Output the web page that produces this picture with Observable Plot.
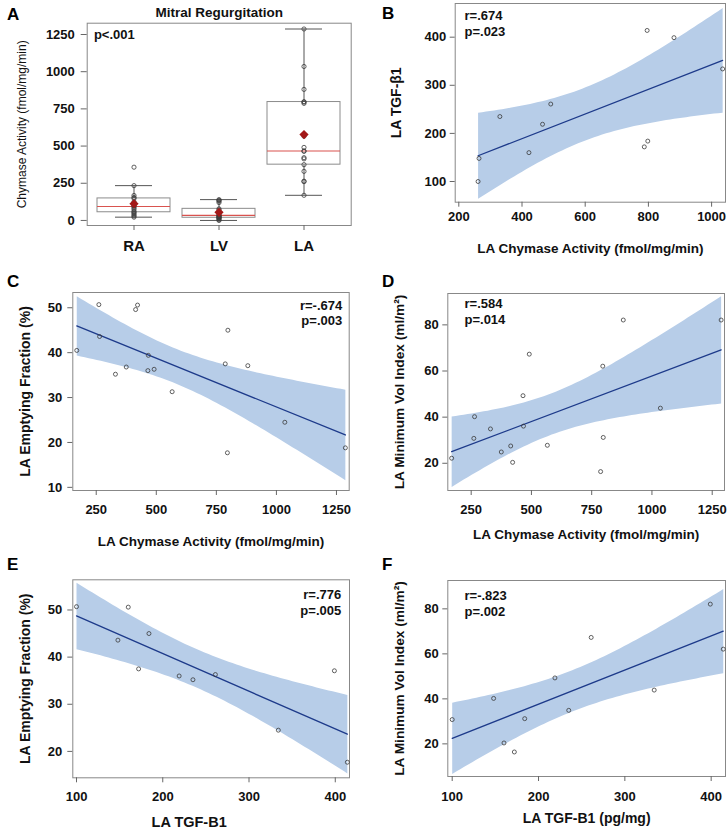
<!DOCTYPE html>
<html><head><meta charset="utf-8">
<script src="https://cdn.jsdelivr.net/npm/d3@7"></script>
<script src="https://cdn.jsdelivr.net/npm/@observablehq/plot@0.6"></script>
<style>
body{margin:0;background:#fff;}
#fig{position:relative;width:728px;height:830px;background:#fff;}
#fig svg{position:absolute;overflow:visible;}
</style></head><body><div id="fig"></div>
<script>
// ---------- data ----------
const sites = ["RA", "LV", "LA"];
const raChymase = [22, 30, 38, 48, 55, 62, 75, 85, 94, 100, 110, 125, 148, 155, 168, 234, 358];
const lvChymase = [0, 5, 12, 18, 18, 22, 26, 30, 34, 40, 55, 70, 78, 120, 130, 135, 140];
// LA subjects (one entry per patient)
const laChymase = [169, 261, 264, 330, 375, 414, 422, 465, 467, 491, 566, 787, 796, 798, 881, 1035, 1287];
const laTGF     = [null, 100, 148, 235, null, null, 160, 219, null, 261, null, 172, 414, 184, 399, 334, null];
const laEF      = [40.5, 50.7, 43.6, 35.2, 36.8, 49.6, 50.6, 36.0, 39.4, 36.3, 31.3, 37.5, 17.7, 45.0, 37.1, 24.5, 18.8];
const laMinVol  = [22.2, 30.8, 40.2, 34.9, 24.9, 27.5, 20.4, 49.3, 36.1, 67.3, 27.8, 16.4, 62.1, 31.2, 82.1, 43.9, 82.1];

const ticksA = [0, 250, 500, 750, 1000, 1250];
const ticksChymB = [200, 400, 600, 800, 1000];
const ticksTGFy = [100, 200, 300, 400];
const ticksChym = [250, 500, 750, 1000, 1250];
const ticksEF = [10, 20, 30, 40, 50];
const ticksEF2 = [20, 30, 40, 50];
const ticksVol = [20, 40, 60, 80];
const ticksTGFx = [100, 200, 300, 400];

const statsA = ["p<.001"];
const statsB = ["r=.674", "p=.023"];
const statsC = ["r=-.674", "p=.003"];
const statsD = ["r=.584", "p=.014"];
const statsE = ["r=.776", "p=.005"];
const statsF = ["r=-.823", "p=.002"];

// ---------- tables ----------
const boxData = [
  ...raChymase.map(v => ({site: "RA", value: v})),
  ...lvChymase.map(v => ({site: "LV", value: v})),
  ...laChymase.map(v => ({site: "LA", value: v}))
];
const subjects = laChymase.map((c, i) => ({chymase: c, tgf: laTGF[i], ef: laEF[i], minvol: laMinVol[i]}));
const tgfSubjects = subjects.filter(d => d.tgf != null);

// ---------- style ----------
const FONT = '"Liberation Sans", Arial, Helvetica, sans-serif';
const AXIS = "#666";
const FRAME = "#888";
const BAND = "#b7cde8";
const LINE = "#1d3a8a";
const PT = "#3a3a3a";
const fig = document.getElementById("fig");
function place(svg, left, top) {
  svg.style.left = left + "px";
  svg.style.top = top + "px";
  fig.appendChild(svg);
}
const baseStyle = {fontFamily: FONT, fontSize: "13px", fontWeight: "bold", color: "#111", background: "transparent", overflow: "visible"};

function fence(values) {
  const s = values.slice().sort(d3.ascending);
  const q1 = d3.quantile(s, 0.25), q3 = d3.quantile(s, 0.75), r = 1.5 * (q3 - q1);
  return s.filter(v => v >= q1 - r && v <= q3 + r);
}
const whiskLo = v => d3.min(fence(v));
const whiskHi = v => d3.max(fence(v));

// ---------- panel A ----------
const plotA = Plot.plot({
  width: 364, height: 280,
  marginLeft: 86.7, marginRight: 13.3, marginTop: 22.7, marginBottom: 55,
  style: baseStyle,
  x: {type: "band", domain: sites, paddingInner: 0.146, paddingOuter: 0.123},
  y: {domain: [-34, 1326]},
  marks: [
    Plot.frame({stroke: FRAME}),
    Plot.axisX({tickSize: 5, tickPadding: 9.4, fontSize: 15, label: null, stroke: AXIS}),
    Plot.axisY({ticks: ticksA, tickSize: 6, tickPadding: 6.4, tickFormat: "d", label: null, stroke: AXIS}),
    Plot.ruleX(boxData, Plot.groupX({y1: whiskLo, y2: whiskHi}, {x: "site", y1: "value", y2: "value", stroke: "#555"})),
    Plot.barY(boxData, Plot.groupX({y1: "p25", y2: "p75"}, {x: "site", y1: "value", y2: "value", fill: "white", stroke: "#8c8c8c"})),
    Plot.tickY(boxData, Plot.groupX({y: whiskLo}, {x: "site", y: "value", stroke: "#555", insetLeft: 18, insetRight: 18})),
    Plot.tickY(boxData, Plot.groupX({y: whiskHi}, {x: "site", y: "value", stroke: "#555", insetLeft: 18, insetRight: 18})),
    Plot.tickY(boxData, Plot.groupX({y: "median"}, {x: "site", y: "value", stroke: "#d9534f", strokeWidth: 1.1})),
    Plot.dot(boxData, {x: "site", y: "value", r: 2.1, stroke: PT, strokeWidth: 0.8}),
    Plot.dot(boxData, Plot.groupX({y: "mean"}, {x: "site", y: "value", symbol: "diamond2", r: 3.2, fill: "#a31818", stroke: "#a31818"})),
    Plot.text(statsA, {text: d => d, frameAnchor: "top-left", textAnchor: "start", lineAnchor: "bottom", dx: 6.7, dy: 15.6, fontSize: 13}),
    Plot.text(["Chymase Activity (fmol/mg/min)"], {text: d => d, frameAnchor: "left", textAnchor: "middle", lineAnchor: "middle", rotate: -90, dx: -65, fontSize: 12, fontWeight: "normal"}),
    Plot.text(["Mitral Regurgitation"], {text: d => d, frameAnchor: "top", textAnchor: "middle", lineAnchor: "bottom", dy: -6.7, fontSize: 13.5})
  ]
});
place(plotA, 0, 0);

// ---------- scatter panels ----------
function scatter(o) {
  const statMarks = o.stats.map((s, i) => Plot.text([s], {
    text: d => d, frameAnchor: o.statRight ? "top-right" : "top-left",
    textAnchor: o.statRight ? "end" : "start", lineAnchor: "bottom",
    dx: o.statDx, dy: o.statDy[i], fontSize: 13
  }));
  return Plot.plot({
    width: 364, height: o.height,
    marginLeft: o.ml, marginRight: o.mr, marginTop: o.mt, marginBottom: o.mb,
    style: baseStyle,
    x: {domain: o.xdom},
    y: {domain: o.ydom},
    marks: [
      Plot.frame({stroke: FRAME}),
      Plot.axisX({ticks: o.xticks, tickSize: 5, tickPadding: o.xpad, tickFormat: "d", label: null, stroke: AXIS}),
      Plot.axisY({ticks: o.yticks, tickSize: 5, tickPadding: o.ypad, tickFormat: "d", label: null, stroke: AXIS}),
      Plot.linearRegressionY(o.data, {x: o.x, y: o.y, ci: 0.95, fill: BAND, fillOpacity: 1, stroke: LINE, strokeWidth: 1.3}),
      Plot.dot(o.data, {x: o.x, y: o.y, r: 2, stroke: PT, strokeWidth: 0.8}),
      ...statMarks,
      Plot.text([o.xTitle], {text: d => d, frameAnchor: "bottom", textAnchor: "middle", lineAnchor: "bottom", dx: o.xTitleDx || 0, dy: o.xTitleDy, fontSize: o.xTitleSize}),
      Plot.text([o.yTitle], {text: d => d, frameAnchor: "left", textAnchor: "middle", lineAnchor: "middle", rotate: -90, dx: o.yTitleDx, fontSize: o.yTitleSize})
    ]
  });
}

place(scatter({
  height: 280, ml: 90.7, mr: 3, mt: 3, mb: 78.3,
  xdom: [188.6, 1044], ydom: [57, 470], xticks: ticksChymB, yticks: ticksTGFy,
  xpad: 4.8, ypad: 4, data: tgfSubjects, x: "chymase", y: "tgf",
  stats: statsB, statRight: false, statDx: 9.3, statDy: [16, 32],
  xTitle: "LA Chymase Activity (fmol/mg/min)", xTitleDy: 50.7, xTitleSize: 13.5,
  yTitle: "LA TGF-\u03b21", yTitleDx: -59, yTitleSize: 14
}), 364, 0);

place(scatter({
  height: 280, ml: 72.3, mr: 15.3, mt: 12, mb: 70,
  xdom: [152.5, 1303], ydom: [9.3, 53.4], xticks: ticksChym, yticks: ticksEF,
  xpad: 9, ypad: 5.6, data: subjects, x: "chymase", y: "ef",
  stats: statsC, statRight: true, statDx: -7, statDy: [17, 32],
  xTitle: "LA Chymase Activity (fmol/mg/min)", xTitleDy: 55.7, xTitleSize: 13.5,
  yTitle: "LA Emptying Fraction (%)", yTitleDx: -47.3, yTitleSize: 14
}), 0, 280);

place(scatter({
  height: 280, ml: 83.3, mr: 4, mt: 13, mb: 70,
  xdom: [153, 1301], ydom: [8.2, 93.6], xticks: ticksChym, yticks: ticksVol,
  xpad: 9, ypad: 4, data: subjects, x: "chymase", y: "minvol",
  stats: statsD, statRight: false, statDx: 16.7, statDy: [14.7, 30.3],
  xTitle: "LA Chymase Activity (fmol/mg/min)", xTitleDy: 48, xTitleSize: 13.5,
  yTitle: "LA Minimum Vol Index (ml/m\u00b2)", yTitleDx: -48.3, yTitleSize: 13.7
}), 364, 280);

place(scatter({
  height: 270, ml: 72.3, mr: 15, mt: 19.3, mb: 52.7,
  xdom: [95.7, 416.5], ydom: [14.4, 56.4], xticks: ticksTGFx, yticks: ticksEF2,
  xpad: 8.5, ypad: 5.6, data: tgfSubjects, x: "tgf", y: "ef",
  stats: statsE, statRight: true, statDx: -8.3, statDy: [19, 34.7],
  xTitle: "LA TGF-B1", xTitleDx: -22, xTitleDy: 49.4, xTitleSize: 14.5,
  yTitle: "LA Emptying Fraction (%)", yTitleDx: -47.3, yTitleSize: 14
}), 0, 560);

place(scatter({
  height: 270, ml: 83.3, mr: 3, mt: 20, mb: 54,
  xdom: [94.9, 416.6], ydom: [5.5, 92.6], xticks: ticksTGFx, yticks: ticksVol,
  xpad: 9.8, ypad: 4, data: tgfSubjects, x: "tgf", y: "minvol",
  stats: statsF, statRight: false, statDx: 16.7, statDy: [19, 35],
  xTitle: "LA TGF-B1 (pg/mg)", xTitleDy: 46, xTitleSize: 14,
  yTitle: "LA Minimum Vol Index (ml/m\u00b2)", yTitleDx: -48.3, yTitleSize: 13.7
}), 364, 560);

// ---------- panel letters ----------
const ns = "http://www.w3.org/2000/svg";
const overlay = document.createElementNS(ns, "svg");
overlay.setAttribute("width", 728);
overlay.setAttribute("height", 830);
overlay.style.left = "0px"; overlay.style.top = "0px";
overlay.style.pointerEvents = "none";
const letters = [["A", 7, 20], ["B", 382, 19.3], ["C", 7, 286.7], ["D", 382, 286.7], ["E", 7, 570], ["F", 382, 570]];
for (const [t, x, y] of letters) {
  const el = document.createElementNS(ns, "text");
  el.setAttribute("x", x); el.setAttribute("y", y);
  el.setAttribute("font-family", FONT); el.setAttribute("font-weight", "bold"); el.setAttribute("font-size", 17);
  el.textContent = t;
  overlay.appendChild(el);
}
fig.appendChild(overlay);
</script>
</body></html>
